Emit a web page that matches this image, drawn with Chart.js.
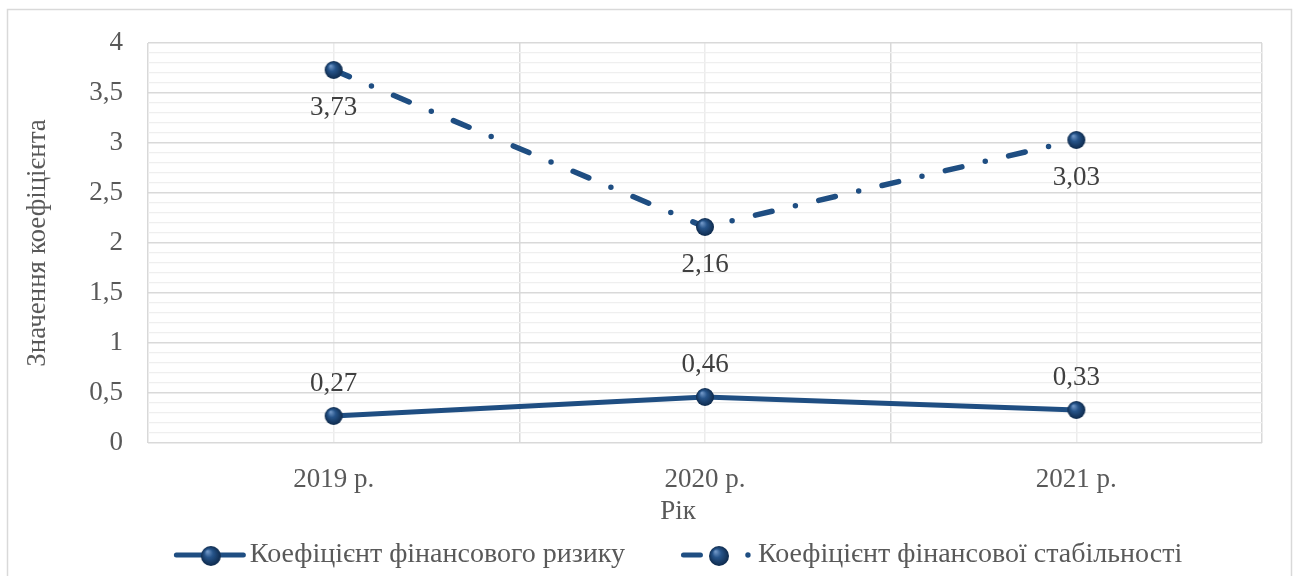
<!DOCTYPE html>
<html>
<head>
<meta charset="utf-8">
<script src="https://cdn.jsdelivr.net/npm/chart.js@4.4.1/dist/chart.umd.min.js"></script>
<style>
  html, body { margin: 0; padding: 0; background: #ffffff; }
  #wrap { width: 1296px; height: 576px; position: relative; }
</style>
</head>
<body>
<div id="wrap"><canvas id="chart" width="1296" height="576"></canvas></div>
<script>
// Роки та значення коефіцієнтів
const years = ['2019 р.', '2020 р.', '2021 р.'];
const riskCoefficient = [0.27, 0.46, 0.33];
const stabilityCoefficient = [3.73, 2.16, 3.03];
const seriesNames = ['Коефіцієнт фінансового ризику', 'Коефіцієнт фінансової стабільності'];
const yAxisTitle = 'Значення коефіцієнта';
const xAxisTitle = 'Рік';
const yMin = 0;
const yMax = 4;
const yMajorStep = 0.5;
const yMinorStep = 0.1;

const FONT = "'Liberation Serif', 'Times New Roman', serif";
const FONT_SIZE = 27;
const LEGEND_FONT_SIZE = 28;
const TEXT = '#595959';
const LABEL_TEXT = '#404040';
const NAVY = '#1f4e82';
const DASH = [17, 24, 0, 24];

Chart.defaults.font.family = FONT;
Chart.defaults.font.size = FONT_SIZE;
Chart.defaults.color = TEXT;

const fmt = v => String(Math.round(v * 100) / 100).replace('.', ',');
const isMajor = v => Math.abs(v / yMajorStep - Math.round(v / yMajorStep)) < 1e-6;

// Об'ємний маркер (куля)
function makeSphere(r) {
  const size = Math.ceil(r * 2 + 2);
  const cv = document.createElement('canvas');
  cv.width = cv.height = size;
  const g = cv.getContext('2d');
  const c = size / 2;
  const grad = g.createRadialGradient(c - r * 0.35, c - r * 0.45, r * 0.05, c, c, r);
  grad.addColorStop(0, '#6f96c6');
  grad.addColorStop(0.4, '#26548a');
  grad.addColorStop(1, '#0e2a4c');
  g.fillStyle = grad;
  g.beginPath();
  g.arc(c, c, r, 0, Math.PI * 2);
  g.fill();
  return cv;
}
const sphere = makeSphere(9);
const legendSphere = makeSphere(10);

const decorations = {
  id: 'decorations',
  beforeDraw(chart) {
    const ctx = chart.ctx;
    ctx.save();
    ctx.strokeStyle = '#d9d9d9';
    ctx.lineWidth = 1.5;
    ctx.strokeRect(7.5, 9.5, chart.width - 12, chart.height + 20);
    ctx.restore();
  },
  afterDatasetsDraw(chart) {
    const ctx = chart.ctx;
    ctx.save();
    ctx.font = FONT_SIZE + 'px ' + FONT;
    ctx.fillStyle = LABEL_TEXT;
    ctx.textAlign = 'center';
    ctx.textBaseline = 'middle';
    chart.data.datasets.forEach((ds, i) => {
      const meta = chart.getDatasetMeta(i);
      meta.data.forEach((pt, j) => {
        const dy = ds.valueLabelSide === 'below' ? 38 : -32;
        ctx.fillText(fmt(ds.data[j]), pt.x, pt.y + dy);
      });
    });
    ctx.restore();
  },
  afterDraw(chart) {
    const ctx = chart.ctx;
    const area = chart.chartArea;
    const cx = (area.left + area.right) / 2 - 27;
    ctx.save();
    ctx.font = FONT_SIZE + 'px ' + FONT;
    ctx.fillStyle = TEXT;
    ctx.textBaseline = 'middle';
    ctx.textAlign = 'center';
    ctx.fillText(xAxisTitle, cx, 512);

    // Легенда: зразок лінії з маркером і підпис
    const ly = 555;
    ctx.font = LEGEND_FONT_SIZE + 'px ' + FONT;
    const dsets = chart.data.datasets;
    const sampleW = [76, 77];
    const gapItems = 56;
    const tw = dsets.map(d => ctx.measureText(d.label).width);
    const total = sampleW[0] + tw[0] + gapItems + sampleW[1] + tw[1];
    let x = cx - total / 2;
    ctx.textAlign = 'left';
    dsets.forEach((d, i) => {
      ctx.save();
      ctx.strokeStyle = d.borderColor;
      ctx.fillStyle = d.borderColor;
      ctx.lineWidth = 5;
      ctx.lineCap = 'round';
      let mx;
      if (d.borderDash && d.borderDash.length) {
        ctx.beginPath();
        ctx.moveTo(x + 2.5, ly);
        ctx.lineTo(x + 19.5, ly);
        ctx.stroke();
        ctx.beginPath();
        ctx.arc(x + 67, ly, 2.7, 0, Math.PI * 2);
        ctx.fill();
        mx = x + 38;
      } else {
        ctx.beginPath();
        ctx.moveTo(x + 2.5, ly);
        ctx.lineTo(x + 69.5, ly);
        ctx.stroke();
        mx = x + 37;
      }
      ctx.restore();
      ctx.drawImage(legendSphere, mx - legendSphere.width / 2, ly + 1 - legendSphere.height / 2);
      ctx.fillText(d.label, x + sampleW[i], ly);
      x += sampleW[i] + tw[i] + gapItems;
    });
    ctx.restore();
  }
};

new Chart(document.getElementById('chart'), {
  type: 'line',
  data: {
    labels: years,
    datasets: [
      {
        label: seriesNames[0],
        data: riskCoefficient,
        xAxisID: 'x',
        yAxisID: 'y',
        borderColor: NAVY,
        borderWidth: 5,
        borderCapStyle: 'round',
        borderJoinStyle: 'round',
        pointStyle: sphere,
        pointRadius: 9,
        pointHoverRadius: 9,
        tension: 0,
        valueLabelSide: 'above'
      },
      {
        label: seriesNames[1],
        data: stabilityCoefficient,
        xAxisID: 'x',
        yAxisID: 'y',
        borderColor: NAVY,
        borderWidth: 5.5,
        borderDash: DASH,
        borderCapStyle: 'round',
        borderJoinStyle: 'round',
        pointStyle: sphere,
        pointRadius: 9,
        pointHoverRadius: 9,
        tension: 0,
        valueLabelSide: 'below'
      }
    ]
  },
  options: {
    responsive: false,
    animation: false,
    devicePixelRatio: 1,
    layout: { padding: { top: 43, right: 34, left: 0, bottom: 0 } },
    plugins: {
      legend: { display: false },
      tooltip: { enabled: false }
    },
    scales: {
      x: {
        type: 'category',
        offset: true,
        grid: { offset: true, color: '#d9d9d9', lineWidth: 1.5, drawTicks: false },
        border: { display: false },
        ticks: { color: TEXT, padding: 21 },
        afterFit(s) { s.height = 133; }
      },
      xc: {
        type: 'category',
        position: 'bottom',
        offset: true,
        grid: { offset: false, color: '#ececec', lineWidth: 1.5, drawTicks: false },
        border: { display: false },
        ticks: { display: false },
        afterFit(s) { s.height = 0; }
      },
      y: {
        min: yMin,
        max: yMax,
        grid: {
          color: c => isMajor(c.tick.value) ? '#d9d9d9' : '#efefef',
          lineWidth: c => isMajor(c.tick.value) ? 1.5 : 1.2,
          drawTicks: false
        },
        border: { display: false },
        ticks: {
          stepSize: yMinorStep,
          autoSkip: false,
          padding: 25,
          color: TEXT,
          callback: v => isMajor(v) ? fmt(v) : ''
        },
        title: {
          display: true,
          text: yAxisTitle,
          color: TEXT,
          padding: { top: 22, bottom: 0 }
        },
        afterFit(s) { s.width = 148; }
      }
    }
  },
  plugins: [decorations]
});
</script>
</body>
</html>
